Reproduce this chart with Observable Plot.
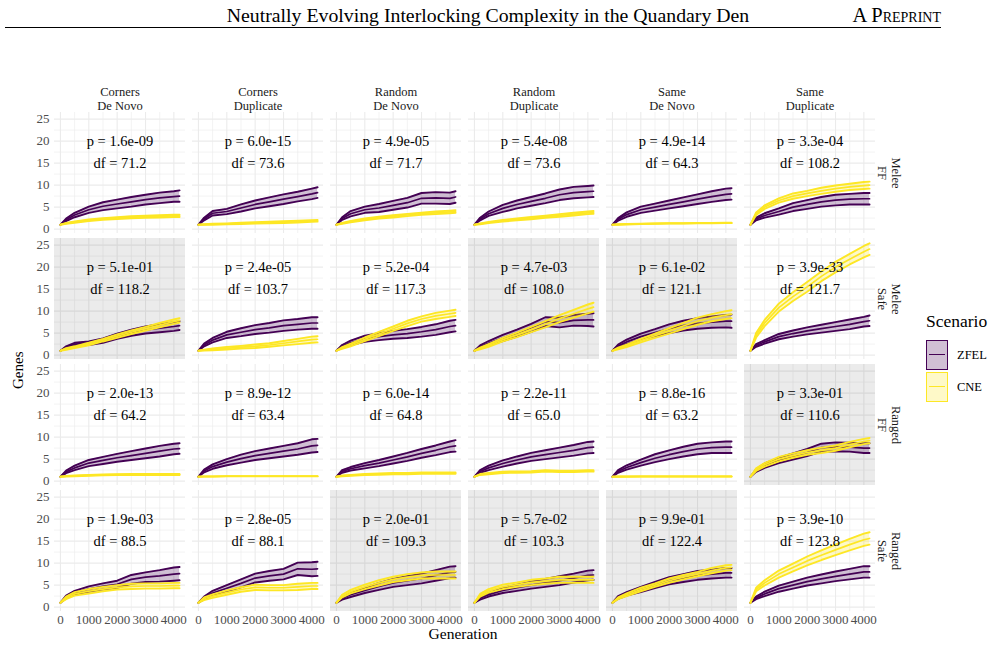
<!DOCTYPE html>
<html>
<head>
<meta charset="utf-8">
<script src="https://cdn.jsdelivr.net/npm/d3@7"></script>
<script src="https://cdn.jsdelivr.net/npm/@observablehq/plot@0.6"></script>
<style>
  body { margin: 0; background: #fff; font-family: "Liberation Serif", "Times New Roman", serif; color: #000; }
  #page { position: relative; width: 1005px; height: 648px; overflow: hidden; }
  #header { position: relative; width: 1005px; height: 40px; }
  .abs { position: absolute; white-space: nowrap; }
</style>
</head>
<body>
<div id="page">
  <div id="header">
    <div class="abs" style="left:0; width:976px; top:4px; text-align:center; font-size:19.8px;">Neutrally Evolving Interlocking Complexity in the Quandary Den</div>
    <div class="abs" style="right:64px; top:4px; font-size:20.5px; font-variant:small-caps;">A Preprint</div>
    <div class="abs" style="left:5px; width:936px; top:27px; height:0; border-top:1.3px solid #000;"></div>
  </div>
  <div id="chart"></div>
  <div class="abs" style="left:8px; top:360px; width:20px; height:20px; font-size:15px; transform: rotate(-90deg); transform-origin: center; line-height:20px; text-align:center;"><span style="position:relative; left:-9px">Genes</span></div>
  <div class="abs" style="left:413px; top:625px; width:100px; text-align:center; font-size:15.5px;">Generation</div>
  <div id="legend" class="abs" style="left:926px; top:311px;"></div>
</div>
<script>
// ---------- data ----------
const generations = [0, 200, 500, 1000, 1500, 2000, 2500, 3000, 3500, 4000, 4200];
const columnLabels = ["Corners\nDe Novo", "Corners\nDuplicate", "Random\nDe Novo", "Random\nDuplicate", "Same\nDe Novo", "Same\nDuplicate"];
const rowLabels = ["Melee\nFF", "Melee\nSafe", "Ranged\nFF", "Ranged\nSafe"];
const scenarios = ["ZFEL", "CNE"];
const scenarioColors = ["#440154", "#FDE725"];
const yTicks = [0, 5, 10, 15, 20, 25];
const yMinorTicks = [2.5, 7.5, 12.5, 17.5, 22.5];
const xTicks = [0, 1000, 2000, 3000, 4000];
const xMinorTicks = [500, 1500, 2500, 3500];

// panel stats, row-major (rows = rowLabels, columns = columnLabels)
const pValues = [
  "1.6e-09", "6.0e-15", "4.9e-05", "5.4e-08", "4.9e-14", "3.3e-04",
  "5.1e-01", "2.4e-05", "5.2e-04", "4.7e-03", "6.1e-02", "3.9e-33",
  "2.0e-13", "8.9e-12", "6.0e-14", "2.2e-11", "8.8e-16", "3.3e-01",
  "1.9e-03", "2.8e-05", "2.0e-01", "5.7e-02", "9.9e-01", "3.9e-10"
];
const dfValues = [
  "71.2", "73.6", "71.7", "73.6", "64.3", "108.2",
  "118.2", "103.7", "117.3", "108.0", "121.1", "121.7",
  "64.2", "63.4", "64.8", "65.0", "63.2", "110.6",
  "88.5", "88.1", "109.3", "103.3", "122.4", "123.8"
];

// ZFEL mean genes per panel at each generation
const zfelMean = [
  [1, 2.1, 3.2, 4.4, 5.2, 5.7, 6.2, 6.7, 7.1, 7.4, 7.5],
  [1, 2.3, 3.6, 4.0, 4.8, 5.6, 6.2, 6.8, 7.4, 8.0, 8.3],
  [1, 2.4, 3.5, 4.4, 4.8, 5.4, 6.0, 7.0, 7.1, 7.0, 7.3],
  [1, 2.3, 3.5, 4.7, 5.6, 6.3, 7.0, 7.8, 8.3, 8.5, 8.6],
  [1, 2.2, 3.3, 4.4, 5.0, 5.6, 6.2, 6.8, 7.4, 7.9, 8.0],
  [1, 2.3, 3.1, 4.0, 5.0, 5.6, 6.2, 6.6, 6.8, 6.9, 6.9],

  [1, 1.8, 2.5, 2.7, 3.3, 4.3, 5.1, 5.7, 6.1, 6.5, 6.7],
  [1, 2.3, 3.4, 4.6, 5.2, 5.8, 6.2, 6.7, 7.0, 7.3, 7.3],
  [1, 2.0, 2.8, 3.7, 4.2, 4.6, 4.9, 5.3, 5.8, 6.5, 6.7],
  [1, 1.9, 2.7, 3.9, 5.0, 6.2, 7.6, 7.4, 7.9, 8.0, 8.0],
  [1, 2.1, 3.0, 4.2, 5.1, 6.0, 6.7, 7.2, 7.5, 7.7, 7.7],
  [1, 2.2, 3.0, 4.2, 4.9, 5.5, 6.0, 6.5, 7.0, 7.6, 7.8],

  [1, 2.1, 3.0, 4.1, 4.7, 5.3, 5.8, 6.3, 6.8, 7.3, 7.4],
  [1, 2.3, 3.3, 4.3, 5.1, 5.8, 6.3, 6.8, 7.3, 8.0, 8.1],
  [1, 2.2, 2.8, 3.5, 4.1, 4.8, 5.5, 6.3, 7.0, 7.8, 8.0],
  [1, 2.2, 3.0, 4.0, 4.8, 5.5, 6.0, 6.5, 7.0, 7.6, 7.7],
  [1, 2.2, 3.1, 4.2, 5.2, 6.0, 6.7, 7.3, 7.6, 7.7, 7.7],
  [1, 2.4, 3.5, 4.7, 5.6, 6.5, 7.6, 7.8, 7.7, 7.5, 7.5],

  [1, 2.3, 3.3, 4.1, 4.7, 5.2, 6.3, 6.8, 7.1, 7.5, 7.6],
  [1, 2.1, 3.2, 4.3, 5.4, 6.6, 7.1, 7.5, 8.7, 8.6, 8.7],
  [1, 2.0, 2.8, 3.8, 4.7, 5.5, 6.0, 6.5, 7.2, 7.9, 8.0],
  [1, 2.0, 2.8, 3.8, 4.4, 5.0, 5.5, 6.0, 6.6, 7.2, 7.3],
  [1, 2.2, 3.0, 4.0, 5.0, 6.0, 6.6, 7.2, 7.5, 7.8, 7.8],
  [1, 2.1, 3.0, 4.2, 5.0, 5.8, 6.4, 7.0, 7.5, 8.0, 8.0]
];
// ZFEL half-width of the confidence band
const zfelHalf = [
  [0, .3, .5, .7, .9, 1.0, 1.1, 1.1, 1.2, 1.2, 1.3],
  [0, .3, .5, .6, .8, .9, 1.0, 1.1, 1.1, 1.2, 1.2],
  [0, .3, .6, .7, .9, 1.0, 1.1, 1.2, 1.3, 1.3, 1.3],
  [0, .3, .5, .8, .9, 1.0, 1.1, 1.2, 1.3, 1.3, 1.3],
  [0, .3, .5, .7, .8, .9, 1.0, 1.1, 1.2, 1.3, 1.3],
  [0, .3, .5, .7, .9, 1.0, 1.1, 1.2, 1.2, 1.3, 1.3],

  [0, .2, .3, .4, .5, .6, .7, .8, .9, 1.0, 1.0],
  [0, .3, .5, .7, .9, 1.0, 1.1, 1.2, 1.2, 1.3, 1.3],
  [0, .3, .5, .7, .8, .9, 1.0, 1.1, 1.2, 1.3, 1.3],
  [0, .3, .5, .7, .8, .9, 1.0, 1.1, 1.2, 1.4, 1.5],
  [0, .3, .5, .7, .8, 1.0, 1.1, 1.2, 1.3, 1.4, 1.5],
  [0, .3, .4, .6, .7, .8, .9, 1.0, 1.1, 1.1, 1.2],

  [0, .3, .5, .7, .8, .9, 1.0, 1.1, 1.2, 1.2, 1.2],
  [0, .3, .5, .7, .9, 1.0, 1.1, 1.2, 1.3, 1.5, 1.5],
  [0, .3, .4, .6, .7, .8, .9, 1.0, 1.1, 1.2, 1.3],
  [0, .3, .5, .7, .8, .9, 1.0, 1.1, 1.2, 1.3, 1.3],
  [0, .3, .5, .7, .9, 1.0, 1.1, 1.2, 1.2, 1.3, 1.3],
  [0, .3, .5, .6, .7, .8, .9, 1.0, 1.0, 1.1, 1.1],

  [0, .3, .4, .6, .7, .8, 1.0, 1.1, 1.3, 1.5, 1.5],
  [0, .3, .5, .7, .9, 1.0, 1.1, 1.2, 1.4, 1.6, 1.6],
  [0, .3, .5, .6, .8, .9, 1.0, 1.1, 1.2, 1.3, 1.3],
  [0, .3, .4, .6, .7, .8, .9, 1.0, 1.0, 1.1, 1.1],
  [0, .3, .4, .6, .7, .8, .9, 1.0, 1.0, 1.1, 1.1],
  [0, .3, .5, .7, .8, .9, 1.0, 1.1, 1.2, 1.3, 1.3]
];
// CNE mean genes per panel at each generation
const cneMean = [
  [1, 1.3, 1.6, 2.0, 2.3, 2.5, 2.7, 2.8, 2.9, 3.0, 3.0],
  [1, 1.05, 1.1, 1.2, 1.3, 1.4, 1.5, 1.6, 1.7, 1.85, 1.9],
  [1, 1.3, 1.7, 2.2, 2.6, 2.9, 3.2, 3.5, 3.7, 3.9, 4.0],
  [1, 1.2, 1.5, 1.9, 2.2, 2.5, 2.8, 3.1, 3.4, 3.7, 3.8],
  [1, 1.05, 1.1, 1.2, 1.25, 1.3, 1.3, 1.35, 1.35, 1.4, 1.4],
  [1, 3.5, 5.0, 6.5, 7.5, 8.1, 8.7, 9.2, 9.6, 9.9, 10.0],

  [1, 1.4, 1.8, 2.5, 3.4, 4.3, 5.2, 6.0, 6.8, 7.6, 7.9],
  [1, 1.15, 1.3, 1.55, 1.8, 2.0, 2.3, 2.7, 3.1, 3.5, 3.6],
  [1, 1.6, 2.3, 3.6, 4.8, 6.0, 7.2, 8.2, 8.9, 9.4, 9.6],
  [1, 1.5, 2.2, 3.5, 4.6, 5.8, 7.0, 8.3, 9.4, 10.5, 10.9],
  [1, 1.5, 2.1, 3.3, 4.4, 5.5, 6.6, 7.7, 8.5, 9.1, 9.3],
  [1, 4.5, 7.3, 10.8, 13.3, 15.5, 17.9, 20.0, 21.8, 23.5, 24.1],

  [1, 1.1, 1.2, 1.3, 1.4, 1.45, 1.5, 1.5, 1.5, 1.5, 1.5],
  [1, 1.05, 1.05, 1.1, 1.1, 1.1, 1.1, 1.1, 1.1, 1.1, 1.1],
  [1, 1.2, 1.3, 1.5, 1.6, 1.7, 1.7, 1.8, 1.8, 1.8, 1.8],
  [1, 1.5, 1.7, 2.0, 2.05, 2.1, 2.3, 2.2, 2.2, 2.3, 2.3],
  [1, 1.02, 1.03, 1.05, 1.05, 1.05, 1.05, 1.05, 1.05, 1.05, 1.05],
  [1, 2.6, 3.7, 5.0, 5.8, 6.5, 7.0, 7.5, 8.3, 9.0, 9.2],

  [1, 2.1, 3.0, 3.6, 4.1, 4.5, 4.7, 4.8, 4.8, 4.9, 4.9],
  [1, 1.9, 2.5, 3.3, 4.0, 4.5, 4.4, 4.4, 4.6, 4.8, 4.8],
  [1, 2.5, 3.5, 4.6, 5.5, 6.3, 6.8, 7.2, 7.3, 7.3, 7.3],
  [1, 2.7, 3.7, 4.6, 5.1, 5.6, 5.9, 6.2, 6.2, 6.2, 6.2],
  [1, 2.0, 2.8, 4.0, 5.0, 6.0, 6.8, 7.5, 8.3, 8.9, 9.0],
  [1, 4.0, 5.5, 7.5, 9.0, 10.5, 11.8, 13.0, 14.2, 15.3, 15.6]
];
// CNE half-width of the confidence band
const cneHalf = [
  [0, .1, .15, .2, .2, .2, .25, .25, .25, .25, .25],
  [0, .05, .1, .1, .15, .15, .2, .2, .2, .2, .2],
  [0, .1, .15, .2, .2, .25, .25, .25, .3, .3, .3],
  [0, .1, .15, .2, .2, .25, .25, .3, .3, .3, .3],
  [0, .05, .05, .05, .05, .05, .05, .05, .05, .05, .05],
  [0, .3, .4, .5, .6, .6, .7, .7, .7, .8, .8],

  [0, .2, .2, .3, .3, .4, .4, .4, .5, .5, .5],
  [0, .1, .2, .3, .3, .4, .4, .5, .6, .7, .7],
  [0, .2, .3, .4, .5, .5, .6, .6, .7, .7, .7],
  [0, .2, .3, .4, .5, .6, .7, .8, .9, 1.0, 1.0],
  [0, .2, .3, .4, .5, .6, .7, .8, .8, .9, .9],
  [0, .5, .7, .9, 1.0, 1.1, 1.1, 1.2, 1.2, 1.3, 1.3],

  [0, .05, .1, .1, .1, .1, .1, .1, .1, .1, .1],
  [0, .03, .03, .03, .03, .03, .03, .03, .03, .03, .03],
  [0, .1, .1, .1, .15, .15, .15, .15, .15, .15, .15],
  [0, .1, .15, .15, .15, .15, .15, .15, .15, .15, .15],
  [0, .02, .02, .02, .02, .02, .02, .02, .02, .02, .02],
  [0, .3, .4, .5, .5, .5, .6, .6, .6, .6, .6],

  [0, .3, .4, .5, .5, .5, .6, .6, .6, .6, .6],
  [0, .3, .4, .5, .5, .6, .6, .6, .7, .7, .7],
  [0, .3, .4, .5, .6, .6, .7, .7, .8, .8, .8],
  [0, .3, .4, .5, .5, .6, .6, .7, .7, .7, .7],
  [0, .2, .3, .4, .4, .5, .5, .5, .6, .6, .6],
  [0, .4, .6, .8, .9, 1.0, 1.1, 1.2, 1.3, 1.4, 1.4]
];
const significanceLevel = 0.05 / 24;   // panels above this are shaded
const pLabelGen = 2100, pLabelGenes = 20, dfLabelGenes = 15;

// ---------- build tidy tables ----------
const nCols = columnLabels.length;
const panels = pValues.map((p, i) => ({
  row: rowLabels[Math.floor(i / nCols)],
  col: columnLabels[i % nCols],
  p, df: dfValues[i]
}));
function seriesRows(means, halves, scenario) {
  const out = [];
  means.forEach((m, i) => {
    m.forEach((v, j) => out.push({
      panel: i, scenario,
      row: panels[i].row, col: panels[i].col,
      gen: generations[j], mean: v, lo: v - halves[i][j], hi: v + halves[i][j]
    }));
  });
  return out;
}
const zfelData = seriesRows(zfelMean, zfelHalf, "ZFEL");
const cneData = seriesRows(cneMean, cneHalf, "CNE");
const shaded = panels.filter(d => +d.p > significanceLevel);

const fontFamily = '"Liberation Serif", "Times New Roman", serif';
function seriesMarks(data, color) {
  const common = {x: "gen", fx: "col", fy: "row", z: "panel"};
  return [
    Plot.areaY(data, {...common, y1: "lo", y2: "hi", fill: color, fillOpacity: 0.25}),
    Plot.lineY(data, {...common, y: "lo", stroke: color, strokeWidth: 1.9}),
    Plot.lineY(data, {...common, y: "hi", stroke: color, strokeWidth: 1.9}),
    Plot.lineY(data, {...common, y: "mean", stroke: color, strokeWidth: 1.7})
  ];
}

const chart = Plot.plot({
  width: 1005,
  height: 608,
  marginTop: 72,
  marginLeft: 51,
  marginRight: 127,
  marginBottom: 37,
  style: {fontFamily, background: "transparent"},
  x: {domain: [-210, 4410]},
  y: {domain: [-1, 26.5]},
  fx: {domain: columnLabels, paddingInner: 0.05, paddingOuter: 0, axis: null},
  fy: {domain: rowLabels, paddingInner: 0.0397, paddingOuter: 0, axis: null},
  marks: [
    Plot.ruleY(yMinorTicks, {stroke: "#ebebeb", strokeWidth: 0.6}),
    Plot.ruleX(xMinorTicks, {stroke: "#ebebeb", strokeWidth: 0.6}),
    Plot.ruleY(yTicks, {stroke: "#ebebeb", strokeWidth: 1.1}),
    Plot.ruleX(xTicks, {stroke: "#ebebeb", strokeWidth: 1.1}),
    Plot.rect(shaded, {fx: "col", fy: "row", fill: "#000", fillOpacity: 0.078}),
    ...seriesMarks(zfelData, scenarioColors[0]),
    ...seriesMarks(cneData, scenarioColors[1]),
    Plot.text(panels, {fx: "col", fy: "row", x: () => pLabelGen, y: () => pLabelGenes, text: d => `p = ${d.p}`, fontSize: 14.5, fill: "#000"}),
    Plot.text(panels, {fx: "col", fy: "row", x: () => pLabelGen, y: () => dfLabelGenes, text: d => `df = ${d.df}`, fontSize: 14.5, fill: "#000"}),
    Plot.axisY({ticks: yTicks, tickSize: 0, tickPadding: 5, fontSize: 13, color: "#4d4d4d", label: null}),
    Plot.axisX({ticks: xTicks, tickFormat: d => String(d), tickSize: 0, tickPadding: 3, fontSize: 13, color: "#4d4d4d", label: null}),
    Plot.text(columnLabels, {fx: d => d, fy: () => rowLabels[0], frameAnchor: "top", dy: -3, lineAnchor: "bottom", lineHeight: 1.1, text: d => d, fontSize: 12.5, fill: "#1a1a1a"}),
    Plot.text(rowLabels, {fy: d => d, fx: () => columnLabels[nCols - 1], frameAnchor: "right", dx: 14, rotate: 90, textAnchor: "middle", lineAnchor: "middle", lineHeight: 1.1, text: d => d, fontSize: 12.5, fill: "#1a1a1a"})
  ]
});
document.getElementById("chart").appendChild(chart);

// ---------- legend ----------
const legend = document.getElementById("legend");
const fills = ["rgba(68,1,84,0.25)", "rgba(253,231,37,0.25)"];
let html = `<div style="font-size:17.5px; margin-bottom:7px;">Scenario</div>`;
scenarios.forEach((s, i) => {
  html += `<div style="display:flex; align-items:center; height:32px;">
    <div style="position:relative; width:20px; height:28px; border:1.5px solid ${scenarioColors[i]}; background:${fills[i]};">
      <div style="position:absolute; left:2px; right:2px; top:13px; height:0; border-top:1.7px solid ${scenarioColors[i]};"></div>
    </div>
    <div style="margin-left:9px; font-size:12.5px;">${s}</div>
  </div>`;
});
legend.innerHTML = html;
</script>
</body>
</html>
